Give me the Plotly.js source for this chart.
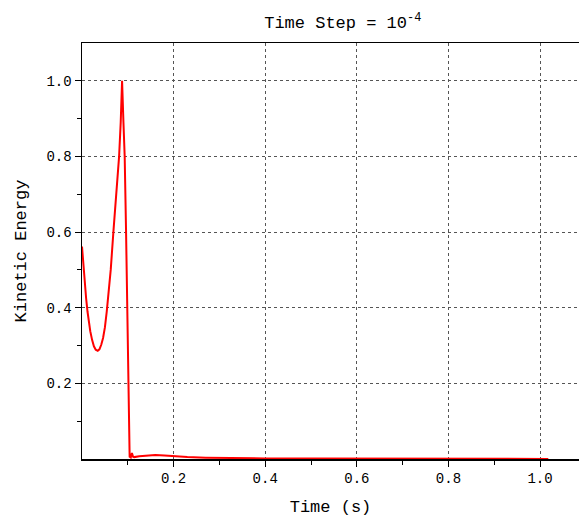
<!DOCTYPE html>
<html>
<head>
<meta charset="utf-8">
<script src="https://cdn.plot.ly/plotly-3.0.1.min.js"></script>
<style>html,body{margin:0;padding:0;background:#fff;}#chart{width:579px;height:521px;}</style>
</head>
<body>
<div id="chart"></div>
<script>
const timeValues = [0, 0.003, 0.006, 0.009, 0.012, 0.015, 0.018, 0.022, 0.026, 0.030, 0.0343, 0.038, 0.042, 0.046, 0.050, 0.054, 0.058, 0.0627, 0.0685, 0.075, 0.081, 0.0845, 0.0875, 0.0905, 0.0932, 0.0962, 0.099, 0.101, 0.1025, 0.1040, 0.1065, 0.109, 0.1115, 0.114, 0.125, 0.14, 0.16, 0.18, 0.20, 0.23, 0.27, 0.32, 0.4, 0.5, 0.7, 0.9, 1.018];
const kineticEnergy = [0.562, 0.512, 0.466, 0.425, 0.39, 0.362, 0.338, 0.315, 0.298, 0.289, 0.286, 0.290, 0.302, 0.320, 0.348, 0.39, 0.44, 0.50, 0.60, 0.70, 0.80, 0.89, 1.0, 0.89, 0.80, 0.60, 0.40, 0.262, 0.12, 0.006, 0.004, 0.016, 0.006, 0.005, 0.007, 0.009, 0.0106, 0.009, 0.007, 0.005, 0.0035, 0.0025, 0.0015, 0.001, 0.0006, 0.0004, 0.0003];
const xTicks = [0.2, 0.4, 0.6, 0.8, 1.0];
const xTickLabels = ["0.2", "0.4", "0.6", "0.8", "1.0"];
const xMinor = [0.1, 0.3, 0.5, 0.7, 0.9];
const yTicks = [0.2, 0.4, 0.6, 0.8, 1.0];
const yTickLabels = ["0.2", "0.4", "0.6", "0.8", "1.0"];
const yMinor = [0.1, 0.3, 0.5, 0.7, 0.9];

const font = "Liberation Mono, DejaVu Sans Mono, monospace";
const trace = {
  x: timeValues, y: kineticEnergy, type: 'scatter', mode: 'lines',
  line: {color: '#ff0000', width: 2}, hoverinfo: 'skip'
};
const layout = {
  width: 579, height: 521,
  margin: {l: 82, r: 0, t: 43, b: 62},
  paper_bgcolor: '#fff', plot_bgcolor: '#fff',
  showlegend: false,
  font: {family: font, color: '#000', size: 14},
  title: {text: 'Time Step = 10<sup>-4</sup>', font: {family: font, size: 17, color: '#000'}, x: 0.592, xanchor: 'center', y: 0.958, yanchor: 'middle'},
  xaxis: {
    range: [0, 1.085], tickmode: 'array', tickvals: xTicks, ticktext: xTickLabels,
    ticks: 'outside', ticklen: 6, tickwidth: 1, tickcolor: '#000',
    showline: true, linecolor: '#000', linewidth: 1.5, mirror: true,
    showgrid: true, gridcolor: '#555', griddash: '3px,3px', gridwidth: 1,
    zeroline: false,
    tickfont: {family: font, size: 14, color: '#000'},
    minor: {tickmode: 'array', tickvals: xMinor, ticks: 'outside', ticklen: 4, tickcolor: '#000', showgrid: false},
    title: {text: 'Time (s)', font: {family: font, size: 17, color: '#000'}, standoff: 14}
  },
  yaxis: {
    range: [0, 1.1], tickmode: 'array', tickvals: yTicks, ticktext: yTickLabels,
    ticks: 'outside', ticklen: 6, tickwidth: 1, tickcolor: '#000',
    showline: true, linecolor: '#000', linewidth: 1.5, mirror: false,
    showgrid: true, gridcolor: '#555', griddash: '3px,3px', gridwidth: 1,
    zeroline: false,
    tickfont: {family: font, size: 14, color: '#000'},
    minor: {tickmode: 'array', tickvals: yMinor, ticks: 'outside', ticklen: 4, tickcolor: '#000', showgrid: false},
    title: {text: 'Kinetic Energy', font: {family: font, size: 17, color: '#000'}, standoff: 15}
  }
};
Plotly.newPlot('chart', [trace], layout, {staticPlot: true, displayModeBar: false});
</script>
</body>
</html>
